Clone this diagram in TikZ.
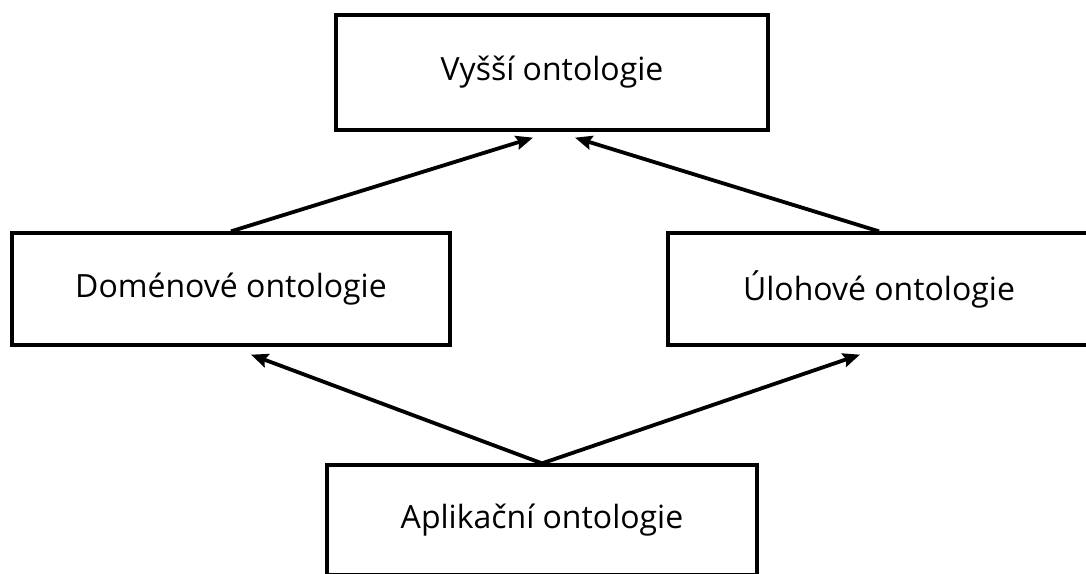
\documentclass[tikz,border=0pt]{standalone}
\usepackage{fontspec}
\setmainfont{Open Sans}
\usetikzlibrary{arrows.meta,calc}
\begin{document}
\begin{tikzpicture}[x=1pt,y=-1pt,
  box/.style={draw=black,line width=3.3pt,fill=white,minimum height=#1,inner sep=0pt,font=\fontsize{32}{38}\selectfont},
  conn/.style={line width=3.8pt,-{Stealth[length=17pt,width=14pt,inset=2.5pt]}}]
\useasboundingbox (0,0) rectangle (1086,573);
\node[box=115,minimum width=432] (top) at (552,72.5) {Vyšší ontologie};
\node[box=112,minimum width=438] (left) at (231,289) {Doménové ontologie};
\node[box=112,minimum width=422] (right) at (879,289) {Úlohové ontologie};
\node[box=110,minimum width=430] (bottom) at (542,520) {Aplikační ontologie};
\draw[conn] (left.north) -- ($(top.south)+(-19,6)$);
\draw[conn] (right.north) -- ($(top.south)+(23,6)$);
\draw[conn] (bottom.north) -- ($(left.south)+(20,8)$);
\draw[conn] (bottom.north) -- ($(right.south)+(-19,8)$);
\end{tikzpicture}
\end{document}
